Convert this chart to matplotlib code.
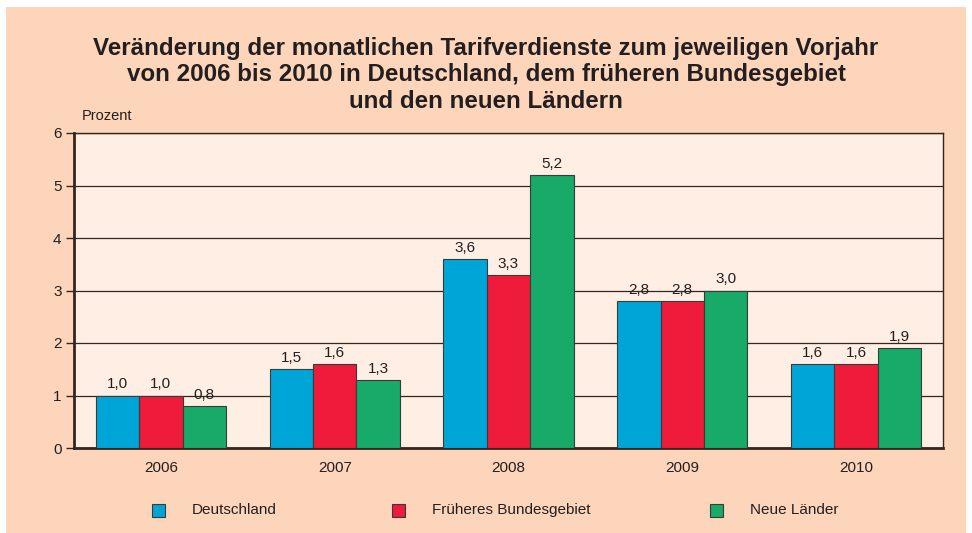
import matplotlib.pyplot as plt
import matplotlib.patches as mpatches
import numpy as np

plt.rcParams['font.family'] = ['Liberation Sans', 'DejaVu Sans']

# data
years = ["2006", "2007", "2008", "2009", "2010"]
series_names = ["Deutschland", "Früheres Bundesgebiet", "Neue Länder"]
deutschland = [1.0, 1.5, 3.6, 2.8, 1.6]
frueheres_bg = [1.0, 1.6, 3.3, 2.8, 1.6]
neue_laender = [0.8, 1.3, 5.2, 3.0, 1.9]

colors = ["#00A5D8", "#EE1B3B", "#17AA69"]
outer_bg = "#FDD5BA"
inner_bg = "#FEEEE4"
dark = "#33261F"

fig = plt.figure(figsize=(9.72, 5.33), dpi=100)
fig.patch.set_facecolor("white")
fig.add_artist(mpatches.Rectangle((6 / 972, 0), 960 / 972, 1 - 7 / 533,
                                  transform=fig.transFigure, facecolor=outer_bg,
                                  edgecolor="none", zorder=-10))

ax = fig.add_axes([74 / 972, 1 - 448 / 533, 869 / 972, 315 / 533])
ax.set_facecolor(inner_bg)

x = np.arange(len(years))
w = 0.25
all_vals = [deutschland, frueheres_bg, neue_laender]
for i, vals in enumerate(all_vals):
    pos = x + (i - 1) * w
    ax.bar(pos, vals, w, color=colors[i], edgecolor="#3a3a3a", linewidth=0.8, zorder=3)
    for px, v in zip(pos, vals):
        ax.text(px, v + 0.08, f"{v:.1f}".replace(".", ","), ha="center", va="bottom",
                fontsize=11, color="#231F20", zorder=4)

ax.set_xlim(-0.5, 4.5)
ax.set_ylim(0, 6)
ax.set_yticks(range(0, 7))
ax.grid(axis="y", color=dark, linewidth=0.9, zorder=1)
ax.set_xticks(x)
ax.set_xticklabels(years, fontsize=11, color="#231F20")
ax.tick_params(axis="x", length=0, pad=9)
ax.tick_params(axis="y", length=6, width=1.0, color=dark, labelsize=11, labelcolor="#231F20", pad=3)
for s in ["left", "bottom"]:
    ax.spines[s].set_linewidth(2.0)
    ax.spines[s].set_color(dark)
for s in ["top", "right"]:
    ax.spines[s].set_linewidth(1.0)
    ax.spines[s].set_color(dark)

fig.text(0.5, 1 - 75 / 533,
         "Veränderung der monatlichen Tarifverdienste zum jeweiligen Vorjahr\n"
         "von 2006 bis 2010 in Deutschland, dem früheren Bundesgebiet\n"
         "und den neuen Ländern",
         ha="center", va="center", fontsize=17.4, fontweight="bold", color="#231F20",
         linespacing=1.2)
fig.text(82 / 972, 1 - 116 / 533, "Prozent", ha="left", va="center", fontsize=10.5, color="#231F20")

# legend
leg_sq_x = [152, 392, 710]
leg_tx_x = [192, 432, 750]
for i, name in enumerate(series_names):
    fig.add_artist(mpatches.Rectangle((leg_sq_x[i] / 972, 1 - 517 / 533), 13 / 972, 13 / 533,
                                      transform=fig.transFigure, facecolor=colors[i],
                                      edgecolor="#3a3a3a", linewidth=0.8))
    fig.text(leg_tx_x[i] / 972, 1 - 510 / 533, name, ha="left", va="center",
             fontsize=11, color="#231F20")

plt.savefig("out.png", dpi=100, facecolor=fig.get_facecolor())
